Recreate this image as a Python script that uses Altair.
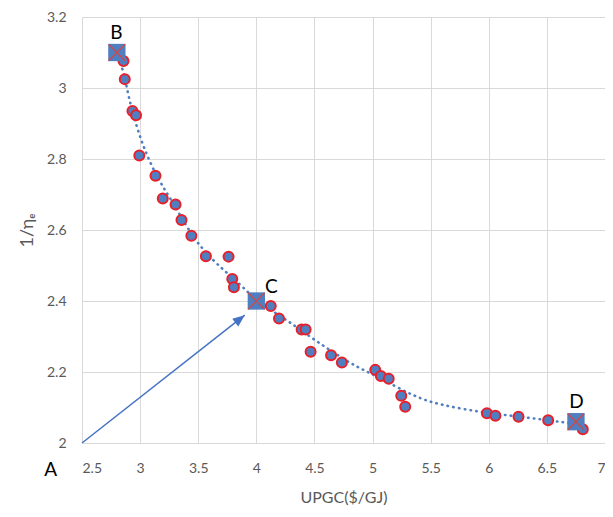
import math
import altair as alt
import pandas as pd

# ---- data ----
cost = [2.857, 2.868, 2.934, 2.965, 2.993, 3.132, 3.195, 3.305, 3.356, 3.441,
        3.566, 3.761, 3.793, 3.807, 4.124, 4.195, 4.390, 4.424, 4.467, 4.643,
        4.736, 5.023, 5.071, 5.139, 5.247, 5.281, 5.984, 6.057, 6.256, 6.511,
        6.809]
inv_eff = [3.076, 3.025, 2.935, 2.923, 2.810, 2.753, 2.689, 2.672, 2.628, 2.584,
           2.526, 2.525, 2.462, 2.439, 2.386, 2.351, 2.320, 2.320, 2.257, 2.247,
           2.227, 2.206, 2.189, 2.181, 2.133, 2.102, 2.084, 2.077, 2.074, 2.064,
           2.039]

marker_names = ["B", "C", "D"]
marker_x = [2.80, 4.00, 6.75]
marker_y = [3.10, 2.40, 2.06]

trend_x = [2.80, 2.86, 2.90, 2.97, 3.05, 3.16, 3.25, 3.39, 3.50, 3.65, 3.87,
           4.00, 4.27, 4.50, 4.84, 5.00, 5.37, 5.59, 5.94, 6.25, 6.60, 6.80]
trend_y = [3.10, 3.045, 2.975, 2.89, 2.815, 2.74, 2.695, 2.615, 2.56, 2.506,
           2.445, 2.40, 2.345, 2.29, 2.217, 2.195, 2.128, 2.107, 2.086, 2.075,
           2.06, 2.052]

label_names = ["A", "B", "C", "D"]
label_x = [2.23, 2.795, 4.13, 6.755]
label_y = [1.925, 3.155, 2.44, 2.116]

arrow_x = [2.5, 3.90]
arrow_y = [2.0, 2.36]

x_ticks = [2.5, 3, 3.5, 4, 4.5, 5, 5.5, 6, 6.5, 7]
y_ticks = [2, 2.2, 2.4, 2.6, 2.8, 3, 3.2]
x_domain = [2.5, 7]
y_domain = [2, 3.2]

W, H = 523, 426
BLUE = "#4F7FC0"
RED = "#E8202A"
GREY = "#595959"
FONT = "Lato"

pts = pd.DataFrame({"x": cost, "y": inv_eff})
marks = pd.DataFrame({"name": marker_names, "x": marker_x, "y": marker_y})
trend = pd.DataFrame({"x": trend_x, "y": trend_y})
labels = pd.DataFrame({"name": label_names, "x": label_x, "y": label_y})
arrow = pd.DataFrame({"x": arrow_x, "y": arrow_y, "o": [0, 1]})
head = arrow.iloc[[1]]

# arrow head rotation from the pixel direction of the arrow
dx = (arrow_x[1] - arrow_x[0]) / (x_domain[1] - x_domain[0]) * W
dy = (arrow_y[1] - arrow_y[0]) / (y_domain[1] - y_domain[0]) * H
head_angle = math.degrees(math.atan2(dx, dy))

xs = alt.Scale(domain=x_domain, nice=False, zero=False)
ys = alt.Scale(domain=y_domain, nice=False, zero=False)

X = alt.X("x:Q", scale=xs, axis=alt.Axis(
    values=x_ticks, format="~g", title="UPGC($/GJ)", grid=True, ticks=False,
    domain=False, labelPadding=18, titlePadding=14))
Y = alt.Y("y:Q", scale=ys, axis=alt.Axis(
    values=y_ticks, format="~g", title="1/ηₑ", grid=True, ticks=False,
    domain=False, labelPadding=16, titlePadding=10, titleFontSize=18))

line = alt.Chart(trend).mark_line(
    color=BLUE, strokeWidth=2.6, strokeDash=[0.5, 5.3], strokeCap="round",
    interpolate="basis").encode(x=X, y=Y)

circles = alt.Chart(pts).mark_point(
    shape="circle", filled=True, fill=BLUE, stroke=RED, strokeWidth=2,
    size=100, opacity=1).encode(x="x:Q", y="y:Q")

squares = alt.Chart(marks).mark_point(
    shape="square", filled=True, color=BLUE, size=300, opacity=1
).encode(x="x:Q", y="y:Q")

crosses = alt.Chart(marks).mark_point(
    shape="M-1,-1L1,1M1,-1L-1,1", filled=False, stroke="#D04848",
    strokeWidth=1.3, size=270, opacity=1).encode(x="x:Q", y="y:Q")

shaft = alt.Chart(arrow).mark_line(color="#4472C4", strokeWidth=1.5, clip=False).encode(
    x="x:Q", y="y:Q", order="o:Q")

arrow_head = alt.Chart(head).mark_point(
    shape="M0,0L-0.65,1.6L0.65,1.6Z", filled=True, color="#4472C4",
    size=225, opacity=1, angle=head_angle).encode(x="x:Q", y="y:Q")

texts = alt.Chart(labels).mark_text(
    font=FONT, fontSize=19, color="black", align="center", baseline="middle",
    clip=False).encode(x="x:Q", y="y:Q", text="name:N")

chart = alt.layer(line, shaft, arrow_head, circles, squares, crosses, texts).properties(
    width=W, height=H,
    autosize=alt.AutoSizeParams(type="none"),
    padding={"left": 74, "top": 9, "right": 0, "bottom": 66},
).configure_view(stroke=None).configure_axis(
    gridColor="#D9D9D9", gridWidth=1, labelFont=FONT, labelFontSize=14,
    labelColor=GREY, titleFont=FONT, titleFontSize=16, titleColor=GREY,
    titleFontWeight="normal")

chart.save("out.html", embed_options={"renderer": "svg", "actions": False})
